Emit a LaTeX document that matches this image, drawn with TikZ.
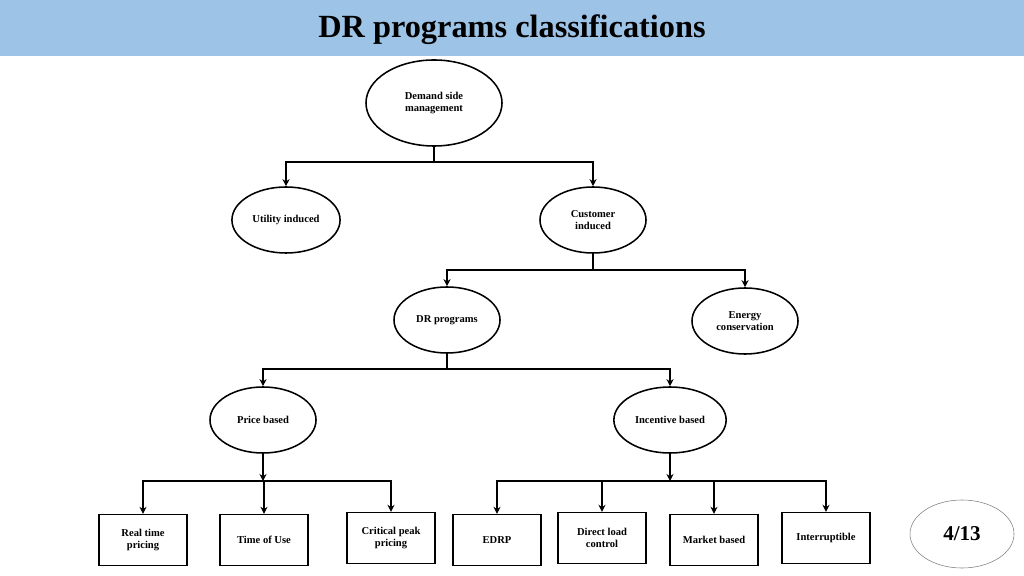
\documentclass[tikz,border=0pt]{standalone}
\usepackage{fontspec}
\setmainfont{Liberation Serif}
\usetikzlibrary{shapes.geometric,arrows.meta}
\definecolor{band}{HTML}{9DC3E6}
\tikzset{
  oval/.style={ellipse, draw, line width=1.1pt, minimum width=2.65cm, minimum height=1.65cm, align=center, font=\fontsize{7.5}{9}\selectfont\bfseries},
  leaf/.style={rectangle, draw, line width=1.1pt, minimum width=2.2cm, minimum height=1.27cm, align=center, font=\fontsize{7.5}{9}\selectfont\bfseries},
  link/.style={line width=1.1pt},
  arr/.style={link, -{Stealth[length=5pt,width=5pt]}}
}
\begin{document}
\begin{tikzpicture}[x=0.025cm,y=-0.025cm]
\useasboundingbox (0,0) rectangle (1024,576);
% title band
\fill[band] (0,0) rectangle (1024,56);
\node[font=\fontsize{23}{26}\selectfont\bfseries] (title) at (512,30) {DR programs classifications};

% ovals
\node[oval, minimum width=3.4cm, minimum height=2.15cm] (dsm) at (434,103) {Demand side\\management};
\node[oval] (ui) at (286,220) {Utility induced};
\node[oval] (ci) at (593,220) {Customer\\induced};
\node[oval] (dr) at (447,320) {DR programs};
\node[oval] (ec) at (745,321) {Energy\\conservation};
\node[oval] (pb) at (263,420) {Price based};
\node[oval] (ib) at (670,420) {Incentive based};

% leaves
\node[leaf] (rtp) at (143,540) {Real time\\pricing};
\node[leaf] (tou) at (264,540) {Time of Use};
\node[leaf] (cpp) at (391,538) {Critical peak\\pricing};
\node[leaf] (edrp) at (497,540) {EDRP};
\node[leaf] (dlc) at (602,538) {Direct load\\control};
\node[leaf] (mb) at (714,540) {Market based};
\node[leaf] (int) at (826,538) {Interruptible};

% page number
\node[ellipse, draw=gray, minimum width=2.6cm, minimum height=1.7cm, font=\fontsize{15}{17}\selectfont\bfseries] (pg) at (962,534) {4/13};

% junctions
\coordinate (j1) at (434,162);
\coordinate (j2) at (593,270);
\coordinate (j3) at (447,369);
\coordinate (j4) at (263,481);
\coordinate (j5) at (670,481);

\draw[link] (dsm) -- (j1);
\draw[arr] (j1) -| (ui.north);
\draw[arr] (j1) -| (ci.north);
\draw[link] (ci) -- (j2);
\draw[arr] (j2) -| (dr.north);
\draw[arr] (j2) -| (ec.north);
\draw[link] (dr) -- (j3);
\draw[arr] (j3) -| (pb.north);
\draw[arr] (j3) -| (ib.north);
\draw[arr] (pb) -- (j4);
\draw[arr] (ib) -- (j5);
\foreach \n in {rtp,tou,cpp} \draw[arr] (j4) -| (\n.north);
\foreach \n in {edrp,dlc,mb,int} \draw[arr] (j5) -| (\n.north);
\end{tikzpicture}
\end{document}
